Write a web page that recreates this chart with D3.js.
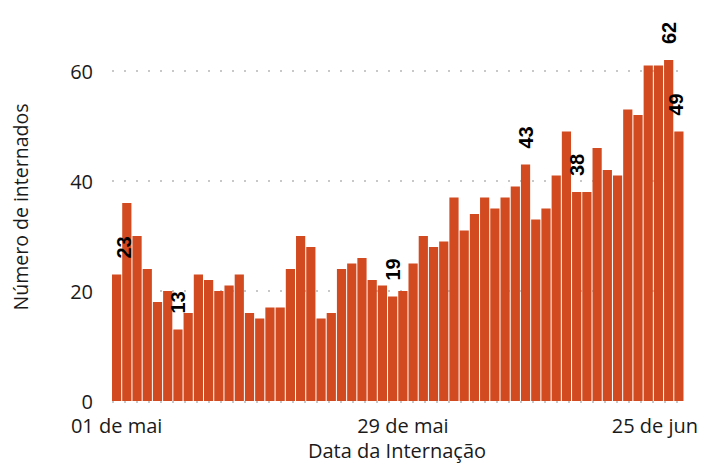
<!DOCTYPE html>
<html>
<head>
<meta charset="utf-8">
<script src="https://cdn.jsdelivr.net/npm/d3@7"></script>
<style>
  body { margin: 0; background: #ffffff; }
  svg { display: block; }
</style>
</head>
<body>
<svg id="chart"></svg>
<script>
// internações por dia, 01 de mai .. 25 de jun
let startDay = new Date(2020, 4, 1);
let endDay   = new Date(2020, 5, 26);
let values = [
    23, 36, 30, 24, 18, 20, 13, 16, 23, 22,
    20, 21, 23, 16, 15, 17, 17, 24, 30, 28,
    15, 16, 24, 25, 26, 22, 21, 19, 20, 25,
    30, 28, 29, 37, 31, 34, 37, 35, 37, 39,
    43, 33, 35, 41, 49, 38, 38, 46, 42, 41,
    53, 52, 61, 61, 62, 49
];
let labelledDays = ['2020-05-01', '2020-05-07', '2020-05-28', '2020-06-10',
                    '2020-06-15', '2020-06-24', '2020-06-25'];
let tickDays = ['2020-05-01', '2020-05-29', '2020-06-25'];
let yTicks = [0, 20, 40, 60];
let monthNames = ['jan', 'fev', 'mar', 'abr', 'mai', 'jun',
                  'jul', 'ago', 'set', 'out', 'nov', 'dez'];

let W = 701, H = 465;
let left = 112, right = 683.5, top0 = 401, top60 = 71;
let fmtKey = d3.timeFormat('%Y-%m-%d');

function tickLabel (key) {
    let d = d3.timeParse('%Y-%m-%d')(key);
    return d3.timeFormat('%d')(d) + ' de ' + monthNames[d.getMonth()];
}

function drawChart () {
    let days = d3.timeDay.range(startDay, endDay).map(fmtKey);
    let data = days.map((k, i) => { return { key: k, value: values[i] }; });

    let svg = d3.select('#chart')
        .attr('width', W)
        .attr('height', H);

    let x = d3.scaleBand()
        .domain(days)
        .range([left, right])
        .paddingInner(0.1)
        .paddingOuter(0);

    let y = d3.scaleLinear()
        .domain([0, 60])
        .range([top0, top60]);

    // grade pontilhada
    svg.append('g')
        .selectAll('line.grid')
        .data(yTicks)
        .enter()
        .append('line')
        .attr('class', 'grid')
        .attr('x1', left)
        .attr('x2', right)
        .attr('y1', (d) => { return y(d) + (d === 0 ? 1 : 0); })
        .attr('y2', (d) => { return y(d) + (d === 0 ? 1 : 0); })
        .attr('stroke', '#c8c8c8')
        .attr('stroke-width', 2)
        .attr('stroke-dasharray', '2,10');

    svg.append('g')
        .selectAll('rect.bar')
        .data(data)
        .enter()
        .append('rect')
        .attr('class', 'bar')
        .attr('x', (d) => { return x(d.key); })
        .attr('width', x.bandwidth())
        .attr('y', (d) => { return y(d.value); })
        .attr('height', (d) => { return y(0) - y(d.value); })
        .attr('fill', '#d24a1f');

    // rótulos dos valores
    let labels = data.filter((d) => { return labelledDays.indexOf(d.key) >= 0; });
    svg.append('g')
        .selectAll('text.value')
        .data(labels)
        .enter()
        .append('text')
        .attr('class', 'value')
        .attr('transform', (d) => {
            let cx = x(d.key) + x.bandwidth() / 2;
            cx = Math.max(left + 12, Math.min(right - 8, cx));
            return 'translate(' + cx + ',' + (y(d.value) - 16) + ') rotate(-90)';
        })
        .attr('dy', '0.36em')
        .attr('font-family', '"Liberation Sans", Arial, sans-serif')
        .attr('font-weight', 'bold')
        .attr('font-size', 20)
        .attr('fill', '#000000')
        .text((d) => { return d.value; });

    let font = '"Open Sans", sans-serif';

    // eixo y
    let yAxis = d3.axisLeft(y)
        .tickValues(yTicks)
        .tickSize(0)
        .tickPadding(0);
    let gy = svg.append('g')
        .attr('transform', 'translate(93,0)')
        .call(yAxis);
    gy.select('.domain').remove();
    gy.selectAll('text')
        .attr('font-family', font)
        .attr('font-size', 20)
        .attr('fill', '#1a1a1a')
        .attr('dy', '0.36em');

    // eixo x
    let xAxis = d3.axisBottom(x)
        .tickValues(tickDays)
        .tickFormat(tickLabel)
        .tickSize(0)
        .tickPadding(0);
    let gx = svg.append('g')
        .attr('transform', 'translate(0,' + 433 + ')')
        .call(xAxis);
    gx.select('.domain').remove();
    gx.selectAll('text')
        .attr('font-family', font)
        .attr('font-size', 20)
        .attr('fill', '#1a1a1a')
        .attr('dy', 0)
        .each(function () {
            let tick = d3.select(this.parentNode);
            let pos = +tick.attr('transform').match(/translate\(([-\d.]+)/)[1];
            let w = this.getComputedTextLength();
            if (pos + w / 2 > 698) d3.select(this).attr('x', 698 - w / 2 - pos);
        });

    svg.append('text')
        .attr('x', 397)
        .attr('y', 458)
        .attr('text-anchor', 'middle')
        .attr('font-family', font)
        .attr('font-size', 20)
        .attr('fill', '#1a1a1a')
        .text('Data da Internação');

    svg.append('text')
        .attr('transform', 'translate(28,207) rotate(-90)')
        .attr('text-anchor', 'middle')
        .attr('font-family', font)
        .attr('font-size', 19.5)
        .attr('fill', '#1a1a1a')
        .text('Número de internados');
}

drawChart();
</script>
</body>
</html>
